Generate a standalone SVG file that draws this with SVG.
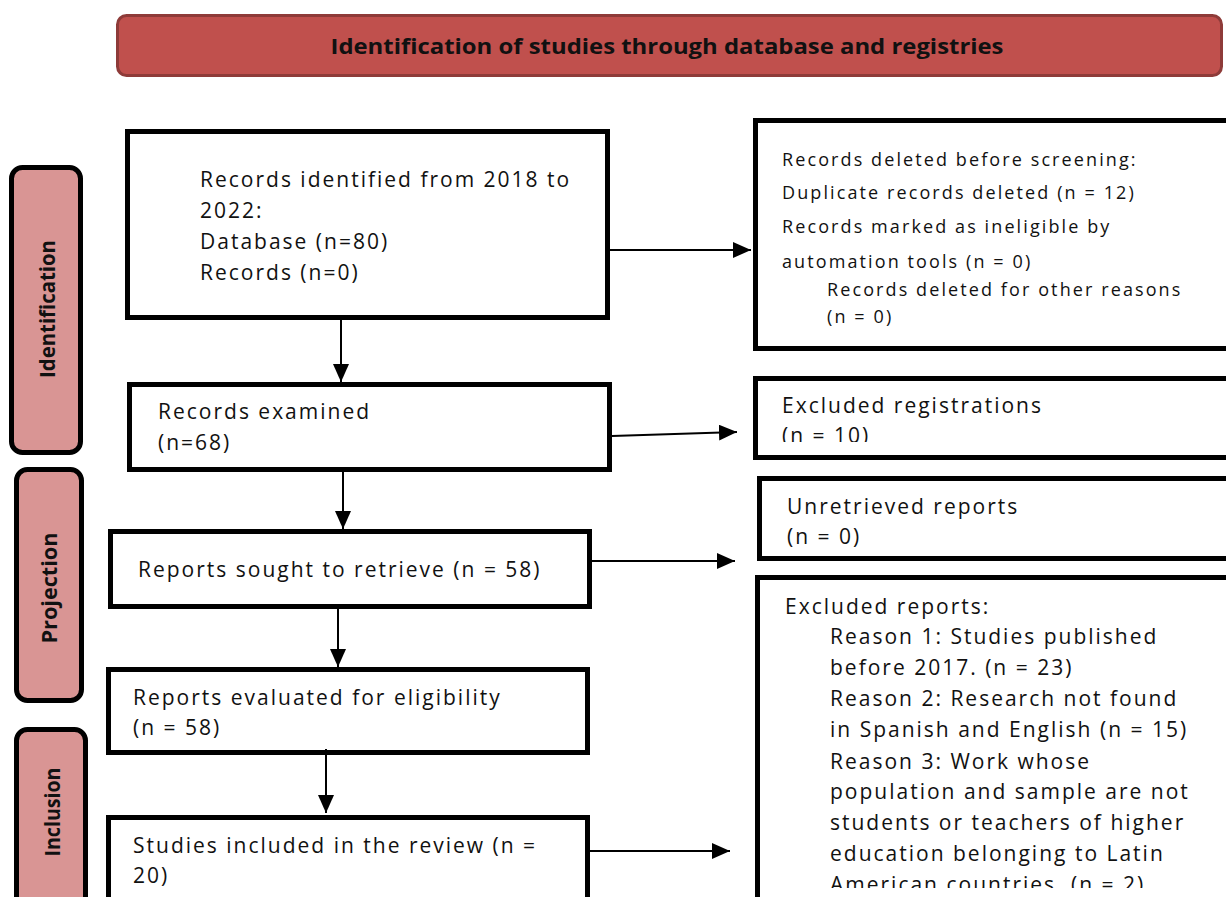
<svg xmlns="http://www.w3.org/2000/svg" width="1226" height="897" viewBox="0 0 1226 897">
<defs>
<style>
.box{fill:#fff;stroke:#000;stroke-width:5}
.side{fill:#D99594;stroke:#000;stroke-width:5}
.t{font-family:"Open Sans","Noto Sans","Liberation Sans",sans-serif;fill:#111}
.m{font-size:21px;letter-spacing:2px}
.s{font-size:18px;letter-spacing:2.1px}
.sl{font-family:"Open Sans","Liberation Sans",sans-serif;font-weight:bold;font-size:22px;fill:#111}
.c{stroke:#000;stroke-width:2;fill:none}
</style>
<marker id="ah" markerUnits="userSpaceOnUse" markerWidth="20" markerHeight="16" refX="18" refY="8" orient="auto">
<path d="M0,0 L18,8 L0,16 Z" fill="#000"/>
</marker>
<clipPath id="clipR2"><rect x="750" y="370" width="480" height="72"/></clipPath>
<clipPath id="clipR4"><rect x="750" y="570" width="480" height="318"/></clipPath>
</defs>
<rect width="1226" height="897" fill="#fff"/>

<g id="header">
<rect x="117.5" y="15.5" width="1104" height="60" rx="9" fill="#C0504D" stroke="#8E3B39" stroke-width="3"/>
<text x="667" y="54" text-anchor="middle" class="sl" textLength="673" lengthAdjust="spacingAndGlyphs">Identification of studies through database and registries</text>
</g>

<g id="phase-identification">
<rect x="11.5" y="167.5" width="69" height="285" rx="11" class="side"/>
<text transform="translate(55,309) rotate(-90)" text-anchor="middle" class="sl" textLength="138" lengthAdjust="spacingAndGlyphs">Identification</text>
</g>
<g id="phase-projection">
<rect x="16.5" y="469.5" width="65" height="231" rx="11" class="side"/>
<text transform="translate(57,588) rotate(-90)" text-anchor="middle" class="sl" textLength="111" lengthAdjust="spacingAndGlyphs">Projection</text>
</g>
<g id="phase-inclusion">
<rect x="16.5" y="729.5" width="69" height="190" rx="11" class="side"/>
<text transform="translate(60,812) rotate(-90)" text-anchor="middle" class="sl" textLength="89" lengthAdjust="spacingAndGlyphs">Inclusion</text>
</g>

<g id="records-identified">
<rect x="127.5" y="131.5" width="480" height="186" class="box"/>
<text class="t m" x="200" y="187">Records identified from 2018 to</text>
<text class="t m" x="200" y="218">2022:</text>
<text class="t m" x="200" y="249">Database (n=80)</text>
<text class="t m" x="200" y="280">Records (n=0)</text>
</g>

<g id="records-examined">
<rect x="129.5" y="384.5" width="480" height="85" class="box"/>
<text class="t m" x="158" y="419">Records examined</text>
<text class="t m" x="158" y="450">(n=68)</text>
</g>

<g id="reports-sought">
<rect x="110.5" y="531.5" width="479" height="75" class="box"/>
<text class="t m" x="138" y="577">Reports sought to retrieve (n = 58)</text>
</g>

<g id="reports-evaluated">
<rect x="108.5" y="669.5" width="479" height="83" class="box"/>
<text class="t m" x="133" y="705">Reports evaluated for eligibility</text>
<text class="t m" x="133" y="735">(n = 58)</text>
</g>

<g id="studies-included">
<rect x="108.5" y="817.5" width="479" height="100" class="box"/>
<text class="t m" x="133" y="853">Studies included in the review (n =</text>
<text class="t m" x="133" y="883">20)</text>
</g>

<g id="records-deleted">
<rect x="755.5" y="120.5" width="480" height="228" class="box"/>
<text class="t s" x="782" y="166">Records deleted before screening:</text>
<text class="t s" x="782" y="199">Duplicate records deleted (n = 12)</text>
<text class="t s" x="782" y="233">Records marked as ineligible by</text>
<text class="t s" x="782" y="268">automation tools (n = 0)</text>
<text class="t s" x="827" y="296">Records deleted for other reasons</text>
<text class="t s" x="827" y="323">(n = 0)</text>
</g>

<g id="excluded-registrations">
<rect x="755.5" y="378.5" width="480" height="79" class="box"/>
<text class="t m" x="782" y="413">Excluded registrations</text>
<text class="t m" x="782" y="443" clip-path="url(#clipR2)">(n = 10)</text>
</g>

<g id="unretrieved-reports">
<rect x="759.5" y="478.5" width="480" height="80" class="box"/>
<text class="t m" x="787" y="514">Unretrieved reports</text>
<text class="t m" x="787" y="544">(n = 0)</text>
</g>

<g id="excluded-reports">
<rect x="757.5" y="577.5" width="480" height="340" class="box"/>
<g clip-path="url(#clipR4)">
<text class="t m" x="785" y="614">Excluded reports:</text>
<text class="t m" x="830" y="644">Reason 1: Studies published</text>
<text class="t m" x="830" y="675">before 2017. (n = 23)</text>
<text class="t m" x="830" y="706">Reason 2: Research not found</text>
<text class="t m" x="830" y="737">in Spanish and English (n = 15)</text>
<text class="t m" x="830" y="769">Reason 3: Work whose</text>
<text class="t m" x="830" y="799">population and sample are not</text>
<text class="t m" x="830" y="830">students or teachers of higher</text>
<text class="t m" x="830" y="861">education belonging to Latin</text>
<text class="t m" x="830" y="892">American countries.  (n = 2)</text>
</g>
</g>

<g id="connectors">
<line class="c" x1="341" y1="320" x2="341" y2="382" marker-end="url(#ah)"/>
<line class="c" x1="343" y1="472" x2="343" y2="529" marker-end="url(#ah)"/>
<line class="c" x1="338" y1="609" x2="338" y2="667" marker-end="url(#ah)"/>
<line class="c" x1="326" y1="749" x2="326" y2="813" marker-end="url(#ah)"/>
<line class="c" x1="610" y1="250" x2="751" y2="250" marker-end="url(#ah)"/>
<line class="c" x1="612" y1="436" x2="737" y2="432" marker-end="url(#ah)"/>
<line class="c" x1="592" y1="561" x2="735" y2="561" marker-end="url(#ah)"/>
<line class="c" x1="590" y1="851" x2="730" y2="851" marker-end="url(#ah)"/>
</g>
</svg>
